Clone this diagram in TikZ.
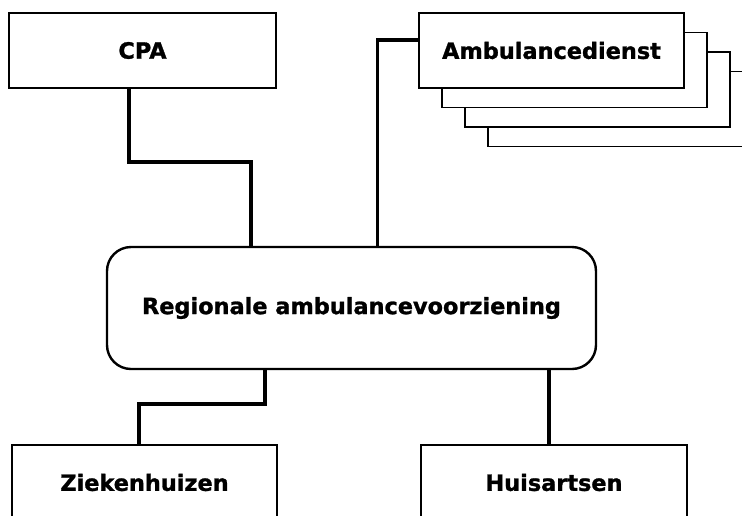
\documentclass[tikz,border=0pt]{standalone}
\usepackage{fontspec}
\setmainfont{DejaVu Sans}[BoldFeatures={FakeBold=1.2}]
\begin{document}
\begin{tikzpicture}[x=1pt, y=-1pt,
  every node/.style={font=\fontsize{22.4}{26}\selectfont\bfseries, inner sep=0pt},
  box/.style={draw, fill=white, line width=1.4pt, minimum height=75pt},
  hub/.style={draw, fill=white, line width=2.4pt, rounded corners=24pt,
    minimum width=489pt, minimum height=122pt},
  link/.style={line width=3.6pt}]

\useasboundingbox (0,0) rectangle (742,515);
\clip (0,0) rectangle (742,515);

\node [box, minimum width=267pt] (cpa) at (142.5,50.5) {CPA};
\foreach \i in {3,2,1}
  \node [box, minimum width=265pt] (amb\i) at (551.5+23*\i,50.5+19.5*\i) {};
\node [box, minimum width=265pt] (amb) at (551.5,50.5) {Ambulancedienst};
\node [hub] (ravz) at (351.5,308) {\raisebox{3pt}{Regionale ambulancevoorziening}};
\node [box, minimum width=265pt] (zkh) at (144.5,482.5) {Ziekenhuizen};
\node [box, minimum width=266pt] (huis) at (554,482.5) {Huisartsen};

\begin{scope}[link]
\draw ([xshift=-13.5pt]cpa.south) -- ++(0,73) -| ([xshift=-100.5pt]ravz.north);
\draw ([yshift=10.5pt]amb.west) -| ([xshift=26pt]ravz.north);
\draw ([xshift=-86.5pt]ravz.south) -- ++(0,33.5) -| ([xshift=-5.5pt]zkh.north);
\draw ([xshift=-5pt]huis.north) -- ([xshift=-5pt]huis.north |- ravz.south);
\end{scope}

\end{tikzpicture}
\end{document}
